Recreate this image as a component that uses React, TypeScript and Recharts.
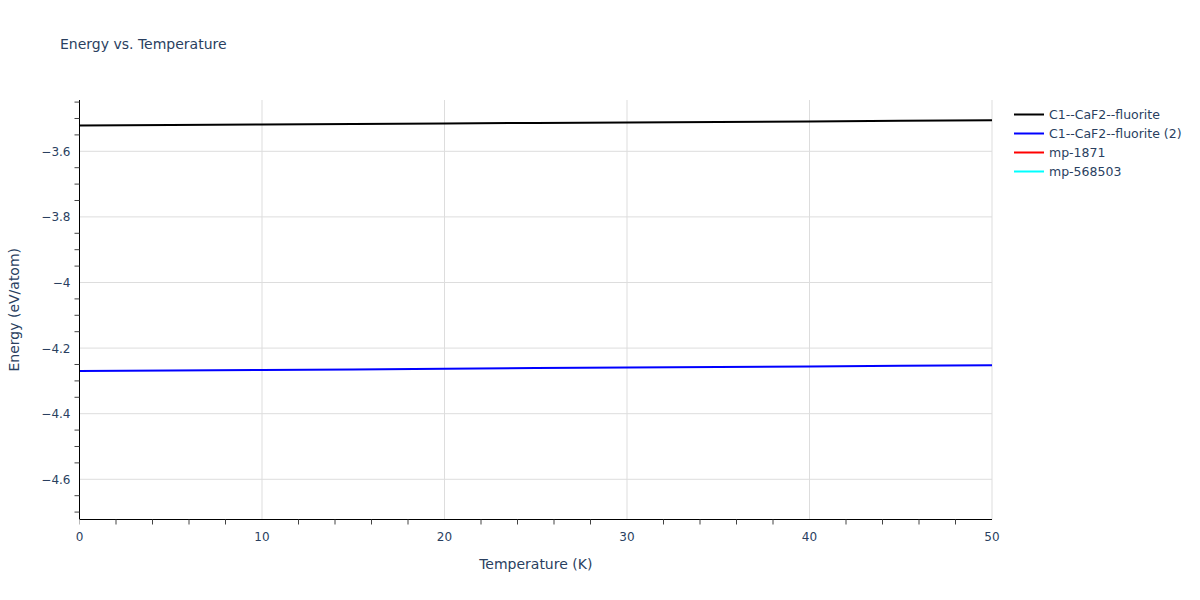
import { LineChart, Line, XAxis, YAxis, ReferenceLine } from "recharts";

const temperatures = [0, 5, 10, 15, 20, 25, 30, 35, 40, 45, 50];
const fluorite = [-3.521, -3.5195, -3.518, -3.5165, -3.515, -3.5135, -3.512, -3.5105, -3.509, -3.507, -3.505];
const fluorite2 = [-4.27, -4.2685, -4.267, -4.265, -4.263, -4.261, -4.259, -4.2575, -4.256, -4.254, -4.252];

const xTicks = [0, 2, 4, 6, 8, 10, 12, 14, 16, 18, 20, 22, 24, 26, 28, 30, 32, 34, 36, 38, 40, 42, 44, 46, 48, 50];
const xMajor = [0, 10, 20, 30, 40, 50];
const yTicks = [
  -4.7, -4.65, -4.6, -4.55, -4.5, -4.45, -4.4, -4.35, -4.3, -4.25, -4.2, -4.15, -4.1, -4.05,
  -4.0, -3.95, -3.9, -3.85, -3.8, -3.75, -3.7, -3.65, -3.6, -3.55, -3.5, -3.45,
];
const yMajor = [-4.6, -4.4, -4.2, -4.0, -3.8, -3.6];

const series = [
  { key: "fluorite", name: "C1--CaF2--fluorite", color: "#000000" },
  { key: "fluorite2", name: "C1--CaF2--fluorite (2)", color: "#0000ff" },
  { key: "mp1871", name: "mp-1871", color: "#ff0000" },
  { key: "mp568503", name: "mp-568503", color: "#00ffff" },
];

const data = temperatures.map((t, i) => ({
  t,
  fluorite: fluorite[i],
  fluorite2: fluorite2[i],
}));

const FONT = '"DejaVu Sans", Verdana, sans-serif';
const TEXT = "#2a3f5f";
const GRID = "#dddddd";

const isMajorY = (v: number) => yMajor.some((m) => Math.abs(m - v) < 1e-6);
const fmtY = (v: number) => (v < 0 ? "\u2212" : "") + String(Math.abs(Math.round(v * 10) / 10));

const XTick = (props: any) => {
  const { x, y, payload } = props;
  const v = payload.value;
  if (xMajor.includes(v)) {
    return (
      <g>
        {v === 0 && <line x1={x} x2={x} y1={y} y2={y + 5} stroke="#bbbbbb" />}
        <text x={x} y={y + 21} textAnchor="middle" fill={TEXT} fontSize={12} fontFamily={FONT}>
          {v}
        </text>
      </g>
    );
  }
  return <line x1={x} x2={x} y1={y} y2={y + 5} stroke="#444444" />;
};

const YTick = (props: any) => {
  const { x, y, payload } = props;
  const v = payload.value;
  if (isMajorY(v)) {
    return (
      <text x={x - 9} y={y + 4.5} textAnchor="end" fill={TEXT} fontSize={12} fontFamily={FONT}>
        {fmtY(v)}
      </text>
    );
  }
  return <line x1={x - 5} x2={x} y1={y} y2={y} stroke="#444444" />;
};

export default function App() {
  return (
    <div style={{ position: "absolute", left: 0, top: 0, width: 1200, height: 600, background: "#fff" }}>
      <div
        style={{
          position: "absolute",
          left: 60,
          top: 36,
          fontFamily: FONT,
          fontSize: 14,
          color: TEXT,
          zIndex: 1,
          whiteSpace: "nowrap",
        }}
      >
        Energy vs. Temperature
      </div>
      <div
        style={{
          position: "absolute",
          left: 1011,
          top: 105,
          fontFamily: FONT,
          fontSize: 12.5,
          color: TEXT,
          zIndex: 1,
          whiteSpace: "nowrap",
        }}
      >
        {series.map((s) => (
          <div key={s.key} style={{ display: "flex", alignItems: "center", height: 19 }}>
            <svg width={35} height={19}>
              <line x1={3} x2={33} y1={9.5} y2={9.5} stroke={s.color} strokeWidth={2} />
            </svg>
            <span style={{ marginLeft: 3 }}>{s.name}</span>
          </div>
        ))}
      </div>
      <LineChart width={1200} height={600} data={data} margin={{ top: 100, right: 208, left: 0, bottom: 0 }}>
        <XAxis
          dataKey="t"
          type="number"
          domain={[0, 50]}
          ticks={xTicks}
          interval={0}
          height={80.5}
          tickSize={0}
          tickMargin={0}
          tickLine={false}
          tick={<XTick />}
          stroke="#000000"
          allowDataOverflow
          label={{
            value: "Temperature (K)",
            position: "insideBottom",
            offset: 31,
            fill: TEXT,
            fontSize: 14,
            fontFamily: FONT,
          }}
        />
        <YAxis
          type="number"
          domain={[-4.7226, -3.4436]}
          ticks={yTicks}
          interval={0}
          width={79.5}
          tickSize={0}
          tickMargin={0}
          tickLine={false}
          tick={<YTick />}
          stroke="#000000"
          allowDataOverflow
          label={{
            value: "Energy (eV/atom)",
            angle: -90,
            position: "insideLeft",
            offset: 14,
            fill: TEXT,
            fontSize: 14,
            fontFamily: FONT,
            style: { textAnchor: "middle" },
          }}
        />
        {yMajor.map((v) => (
          <ReferenceLine key={"y" + v} y={v} stroke={GRID} strokeWidth={1} />
        ))}
        {xMajor.slice(1).map((v) => (
          <ReferenceLine key={"x" + v} x={v} stroke={GRID} strokeWidth={1} />
        ))}
        {series.map((s) => (
          <Line
            key={s.key}
            dataKey={s.key}
            name={s.name}
            stroke={s.color}
            strokeWidth={2}
            dot={false}
            type="linear"
            isAnimationActive={false}
          />
        ))}
      </LineChart>
    </div>
  );
}
